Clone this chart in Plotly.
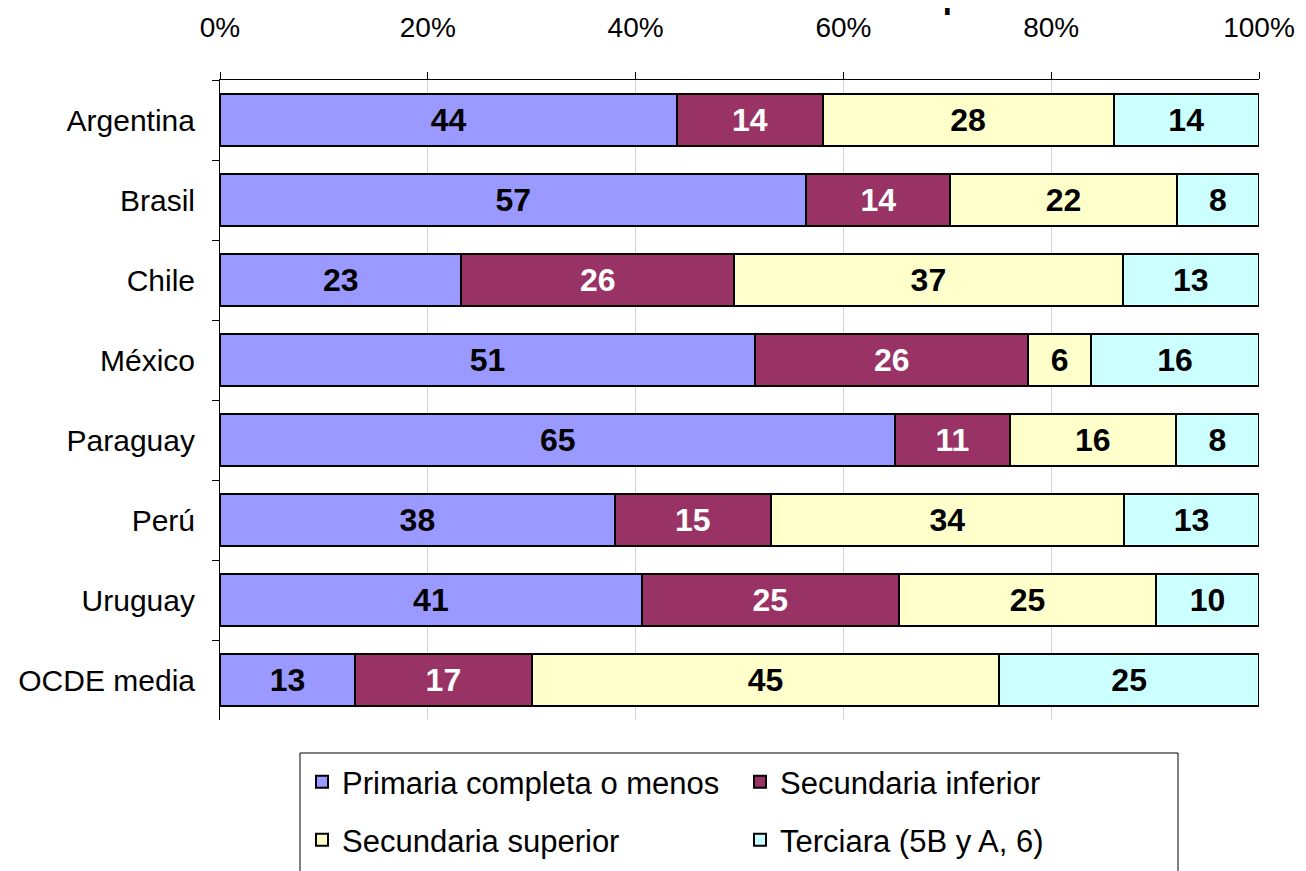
import plotly.graph_objects as go

countries = ["Argentina", "Brasil", "Chile", "México", "Paraguay", "Perú", "Uruguay", "OCDE media"]
series_names = ["Primaria completa o menos", "Secundaria inferior", "Secundaria superior", "Terciara (5B y A, 6)"]
primaria = [44, 57, 23, 51, 65, 38, 41, 13]
sec_inferior = [14, 14, 26, 26, 11, 15, 25, 17]
sec_superior = [28, 22, 37, 6, 16, 34, 25, 45]
terciaria = [14, 8, 13, 16, 8, 13, 10, 25]
tick_vals = [0, 20, 40, 60, 80, 100]
tick_text = ["0%", "20%", "40%", "60%", "80%", "100%"]
title_text = "Nivel educativo de la madre completado"

colors = ["#9999FF", "#993366", "#FFFFCC", "#CCFFFF"]
text_colors = ["black", "white", "black", "black"]
legend_ids = ["legend", "legend", "legend2", "legend2"]
FONT = "Liberation Sans, Arial, sans-serif"

# page body has an 8px margin, so the figure is sized to end at the window edge
OFF = 8
W, H = 1306 - OFF, 871 - OFF
plot_left, plot_right, plot_top, plot_bottom = 220 - OFF, 1259 - OFF, 80 - OFF, 720 - OFF
L, R, T, B = plot_left, W - plot_right, plot_top, H - plot_bottom
pw, ph = plot_right - plot_left, plot_bottom - plot_top

fig = go.Figure()
for name, vals, c, tc, lg in zip(series_names, [primaria, sec_inferior, sec_superior, terciaria],
                                 colors, text_colors, legend_ids):
    fig.add_trace(go.Bar(
        y=countries, x=vals, name=name, orientation="h", legend=lg,
        marker=dict(color=c, line=dict(color="black", width=2)),
        text=[str(v) for v in vals], textposition="inside", insidetextanchor="middle",
        textangle=0, constraintext="none",
        textfont=dict(family=FONT, size=32, color=tc, weight="bold"),
        hoverinfo="x+y",
    ))

leg_common = dict(
    orientation="h", xref="container", x=(302 - OFF) / W, xanchor="left",
    yref="container", yanchor="middle",
    entrywidth=393, entrywidthmode="pixels",
    borderwidth=0, bgcolor="rgba(0,0,0,0)",
    font=dict(family=FONT, size=31, color="black"),
    traceorder="normal", itemwidth=30,
)

fig.update_layout(
    barmode="stack", barnorm="percent", bargap=0.35,
    width=W, height=H,
    margin=dict(l=L, r=R, t=T, b=B, autoexpand=False),
    paper_bgcolor="white", plot_bgcolor="white",
    font=dict(family=FONT, size=28, color="black"),
    showlegend=True,
    legend=dict(y=1 - (782 - OFF) / H, **leg_common),
    legend2=dict(y=1 - (840 - OFF) / H, **leg_common),
)
fig.update_xaxes(
    side="top", range=[0, 100], tickvals=tick_vals, ticktext=tick_text,
    tickfont=dict(family=FONT, size=28),
    showgrid=True, gridcolor="#D4D4D4", gridwidth=1,
    showline=True, linecolor="black", linewidth=1,
    ticks="outside", ticklen=7, tickcolor="black",
    ticklabelstandoff=24, zeroline=False, automargin=False,
)
fig.update_yaxes(
    categoryorder="array", categoryarray=countries, autorange="reversed",
    tickfont=dict(family=FONT, size=30),
    showline=True, linecolor="black", linewidth=1,
    ticks="outside", ticklen=7, tickcolor="black", tickson="boundaries",
    ticklabelstandoff=18, showgrid=False, automargin=False,
)
# legend frame (bottom edge runs past the window, as in the reference)
fig.add_shape(
    type="rect", xref="paper", yref="paper",
    x0=(300 - OFF - plot_left) / pw, x1=(1178 - OFF - plot_left) / pw,
    y0=(plot_bottom - (753 - OFF)) / ph, y1=(plot_bottom - (890 - OFF)) / ph,
    line=dict(color="black", width=1), fillcolor="rgba(0,0,0,0)", layer="above",
)
fig.add_annotation(
    text="<b>" + title_text + "</b>", xref="paper", yref="paper",
    x=(745 - OFF - plot_left) / pw, y=1, xanchor="center", yanchor="bottom",
    yshift=63, showarrow=False,
    font=dict(family=FONT, size=33, color="black"),
)
fig.write_html("out.html")
